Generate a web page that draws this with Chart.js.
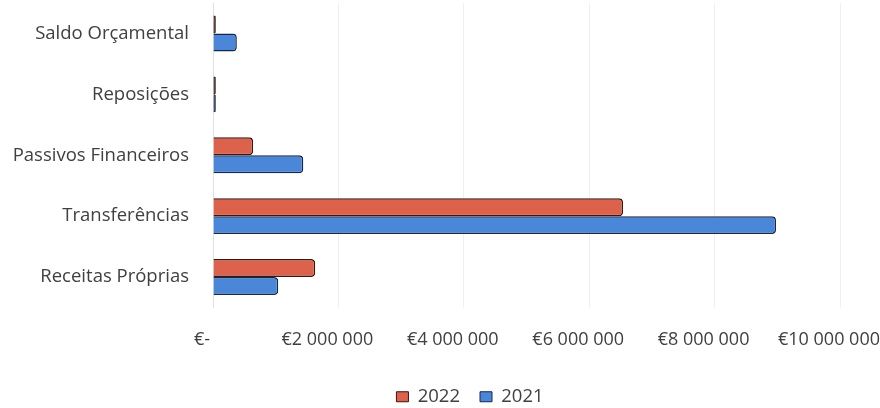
<!DOCTYPE html>
<html>
<head>
<meta charset="utf-8">
<script src="https://cdn.jsdelivr.net/npm/chart.js@4/dist/chart.umd.min.js"></script>
<style>
  html,body{margin:0;padding:0;background:#fff;}
  #wrap{width:880px;height:408px;}
</style>
</head>
<body>
<div id="wrap"><canvas id="c" width="880" height="408"></canvas></div>
<script>
const categories = ["Saldo Orçamental", "Reposições", "Passivos Financeiros", "Transferências", "Receitas Próprias"];
const values2022 = [45000, 45000, 640000, 6540000, 1630000];
const values2021 = [380000, 45000, 1440000, 8980000, 1040000];
const seriesNames = ["2022", "2021"];
const tickValues = [0, 2000000, 4000000, 6000000, 8000000, 10000000];

const FONT = "'Open Sans', 'DejaVu Sans', sans-serif";
const FILLS = ["#DC624B", "#4A87D8"];
const DARKS = ["#1E0A08", "#0E1A30"];
const BORDERS = ["#3E1411", "#16284C"];

function fmtEuro(v) {
  if (v === 0) return "€-";
  return "€" + String(Math.round(v)).replace(/\B(?=(\d{3})+(?!\d))/g, "\u00a0");
}

const legendShift = {
  id: "legendShift",
  afterLayout(chart) {
    const lg = chart.legend;
    if (!lg) return;
    lg.left += 50; lg.right += 50;
    lg.top += 8; lg.bottom += 8;
  }
};

function fillFor(i) {
  return (ctx) => (ctx.raw !== undefined && ctx.raw < 100000) ? DARKS[i] : FILLS[i];
}

new Chart(document.getElementById("c"), {
  type: "bar",
  data: {
    labels: categories,
    datasets: [values2022, values2021].map((vals, i) => ({
      label: seriesNames[i],
      data: vals,
      backgroundColor: fillFor(i),
      borderColor: BORDERS[i],
      borderWidth: 1.5,
      borderSkipped: "start",
      borderRadius: {topRight: 4, bottomRight: 4},
      categoryPercentage: 0.59,
      barPercentage: 1.0
    }))
  },
  plugins: [legendShift],
  options: {
    indexAxis: "y",
    responsive: false,
    animation: false,
    layout: {padding: {left: 0, right: 40, top: 3, bottom: 0}},
    scales: {
      x: {
        min: 0,
        max: 10000000,
        afterBuildTicks: (scale) => { scale.ticks = tickValues.map(v => ({value: v})); },
        afterFit: (scale) => { scale.paddingLeft = 0; scale.paddingRight = 0; scale.height = 52; },
        grid: {color: "#f0f0f0", drawTicks: false},
        border: {display: false},
        ticks: {
          callback: (v) => fmtEuro(v),
          font: {family: FONT, size: 18},
          color: "#404040",
          padding: 22,
          labelOffset: -11,
          maxRotation: 0
        }
      },
      y: {
        grid: {display: false, drawTicks: false},
        border: {display: true, color: "#e0e0e0"},
        afterFit: (scale) => { scale.width = 213; scale.paddingTop = 0; scale.paddingBottom = 0; },
        ticks: {
          font: {family: FONT, size: 18.5},
          color: "#404040",
          padding: 24
        }
      }
    },
    plugins: {
      legend: {
        position: "bottom",
        labels: {
          font: {family: FONT, size: 18.5},
          color: "#404040",
          boxWidth: 12,
          boxHeight: 10,
          padding: 20,
          generateLabels: (chart) => {
            const items = Chart.defaults.plugins.legend.labels.generateLabels(chart);
            items.forEach((it, i) => { it.fillStyle = FILLS[i]; it.strokeStyle = BORDERS[i]; it.lineWidth = 1; });
            return items;
          }
        }
      },
      tooltip: {enabled: false}
    }
  }
});
</script>
</body>
</html>
